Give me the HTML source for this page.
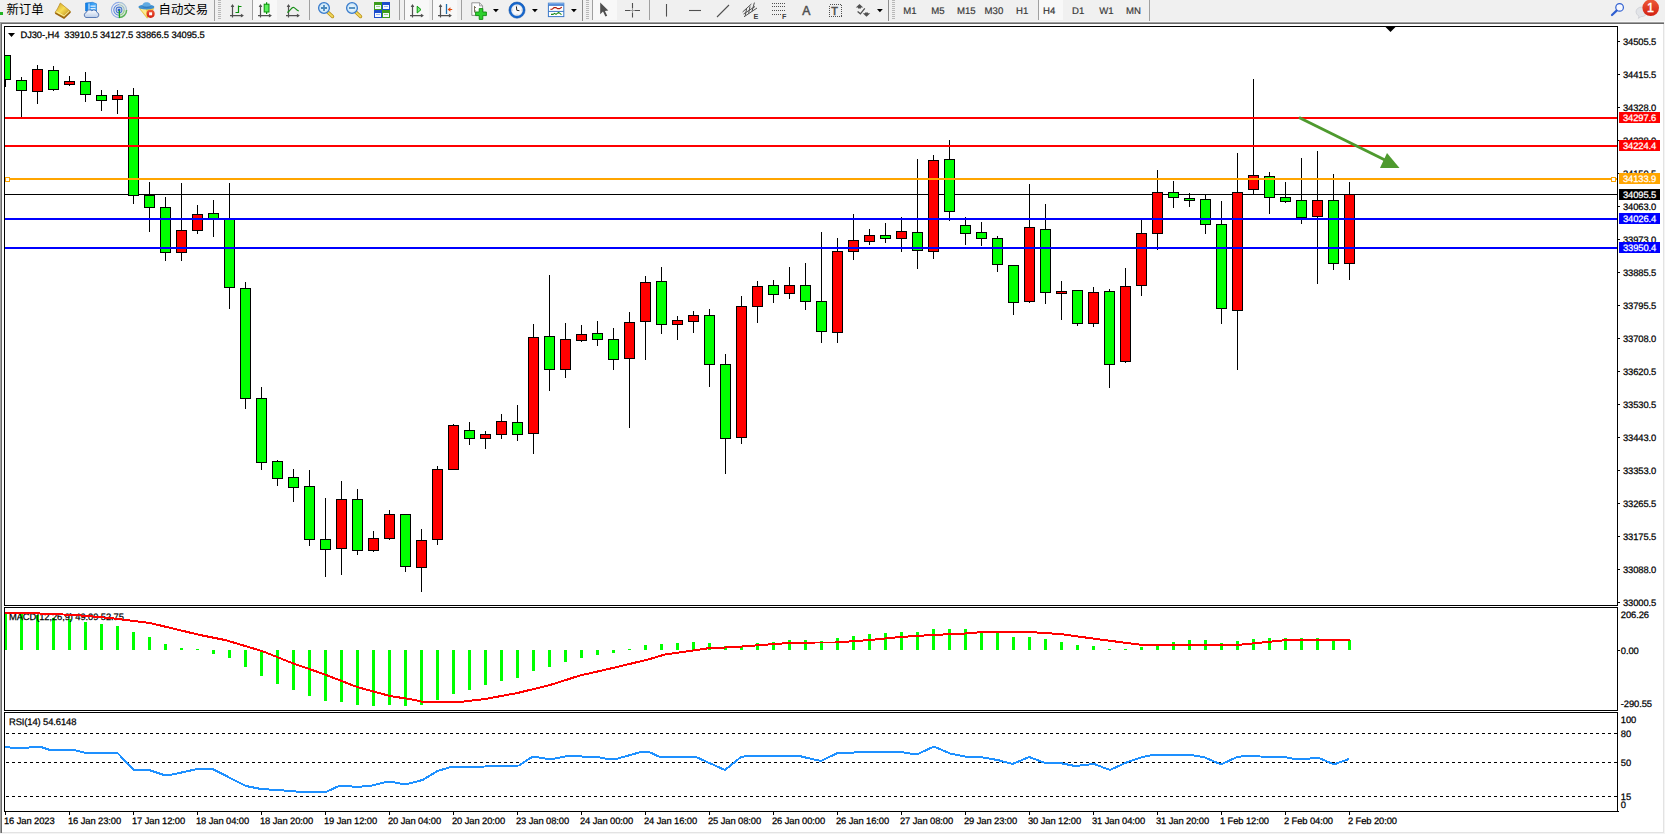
<!DOCTYPE html>
<html lang="zh"><head><meta charset="utf-8"><title>DJ30-,H4</title>
<style>
html,body{margin:0;padding:0;}
body{width:1665px;height:834px;position:relative;overflow:hidden;background:#fff;font-family:"Liberation Sans","Noto Sans CJK SC",sans-serif;}
.chart{position:absolute;left:0;top:0;}
.t{font-family:"Liberation Sans",sans-serif;font-size:9.4px;letter-spacing:-0.1px;stroke-width:.25px;stroke:#000;text-rendering:geometricPrecision;}
.w{fill:#fff;stroke:#fff;}
#tb{position:absolute;left:0;top:0;width:1665px;height:22px;background:#F0F0F0;}
.edge{position:absolute;}
.cj{position:absolute;top:2px;font-size:12.4px;line-height:16px;color:#000;font-family:"Liberation Sans","Noto Sans CJK SC",sans-serif;white-space:nowrap;}
.tf{position:absolute;top:5px;font-size:9.5px;line-height:12px;color:#3c3c3c;white-space:nowrap;font-family:"Liberation Sans",sans-serif;}
.tfs{font-family:"Liberation Sans",sans-serif;font-size:9.6px;fill:#3a3a3a;stroke:#3a3a3a;stroke-width:.2px;text-rendering:geometricPrecision;}
.sep{position:absolute;top:0;width:1px;height:20px;background:#A0A0A0;}
.grip{position:absolute;top:0;width:3px;height:19px;background:repeating-linear-gradient(to bottom,#B8B8B8 0,#B8B8B8 1px,transparent 1px,transparent 2px);}
.sel{position:absolute;top:0;height:20px;background:#F8F8F8;}
.ic{position:absolute;}
</style></head><body>
<div class="edge" style="left:0;top:22px;width:1px;height:812px;background:#A0A0A0"></div>
<div class="edge" style="left:1px;top:23px;width:1px;height:811px;background:#696969"></div>
<div class="edge" style="left:1663px;top:24px;width:1px;height:809px;background:#E3E3E3"></div>
<div class="edge" style="left:1664px;top:22px;width:1px;height:812px;background:#F4F4F4"></div>
<div class="edge" style="left:2px;top:832px;width:1662px;height:1px;background:#E3E3E3"></div>
<div class="edge" style="left:0;top:833px;width:1665px;height:1px;background:#F4F4F4"></div>
<div class="edge" style="left:0;top:22px;width:1664px;height:1px;background:#A0A0A0"></div>
<div class="edge" style="left:0;top:21px;width:1665px;height:1px;background:#F7F7F7;z-index:3"></div>
<div class="edge" style="left:1px;top:23px;width:1663px;height:1px;background:#696969"></div>
<svg class="chart" width="1665" height="834" viewBox="0 0 1665 834">
<g shape-rendering="crispEdges">
<rect x="4" y="26" width="1614" height="1" fill="#000"/>
<rect x="4" y="605" width="1614" height="1" fill="#000"/>
<rect x="4" y="26" width="1" height="580" fill="#000"/>
<rect x="1617" y="26" width="1" height="580" fill="#000"/>
<rect x="4" y="607" width="1614" height="1" fill="#000"/>
<rect x="4" y="710" width="1614" height="1" fill="#000"/>
<rect x="4" y="607" width="1" height="104" fill="#000"/>
<rect x="1617" y="607" width="1" height="104" fill="#000"/>
<rect x="4" y="712" width="1614" height="1" fill="#000"/>
<rect x="4" y="811" width="1614" height="1" fill="#000"/>
<rect x="4" y="712" width="1" height="100" fill="#000"/>
<rect x="1617" y="712" width="1" height="100" fill="#000"/>
<rect x="1617" y="811" width="2" height="1" fill="#000"/>
<rect x="5" y="194" width="1612" height="1" fill="#000"/>
<rect x="5" y="55" width="1" height="32" fill="#000"/>
<rect x="5" y="55" width="6" height="25" fill="#000"/>
<rect x="5" y="56" width="5" height="23" fill="#00FF00"/>
<rect x="21" y="77" width="1" height="40" fill="#000"/>
<rect x="16" y="80" width="11" height="11" fill="#000"/>
<rect x="17" y="81" width="9" height="9" fill="#00FF00"/>
<rect x="37" y="65" width="1" height="39" fill="#000"/>
<rect x="32" y="69" width="11" height="23" fill="#000"/>
<rect x="33" y="70" width="9" height="21" fill="#FF0000"/>
<rect x="53" y="66" width="1" height="25" fill="#000"/>
<rect x="48" y="70" width="11" height="20" fill="#000"/>
<rect x="49" y="71" width="9" height="18" fill="#00FF00"/>
<rect x="69" y="76" width="1" height="10" fill="#000"/>
<rect x="64" y="81" width="11" height="4" fill="#000"/>
<rect x="65" y="82" width="9" height="2" fill="#FF0000"/>
<rect x="85" y="72" width="1" height="30" fill="#000"/>
<rect x="80" y="81" width="11" height="14" fill="#000"/>
<rect x="81" y="82" width="9" height="12" fill="#00FF00"/>
<rect x="101" y="90" width="1" height="21" fill="#000"/>
<rect x="96" y="95" width="11" height="6" fill="#000"/>
<rect x="97" y="96" width="9" height="4" fill="#00FF00"/>
<rect x="117" y="90" width="1" height="24" fill="#000"/>
<rect x="112" y="95" width="11" height="5" fill="#000"/>
<rect x="113" y="96" width="9" height="3" fill="#FF0000"/>
<rect x="133" y="88" width="1" height="116" fill="#000"/>
<rect x="128" y="95" width="11" height="101" fill="#000"/>
<rect x="129" y="96" width="9" height="99" fill="#00FF00"/>
<rect x="149" y="182" width="1" height="50" fill="#000"/>
<rect x="144" y="195" width="11" height="13" fill="#000"/>
<rect x="145" y="196" width="9" height="11" fill="#00FF00"/>
<rect x="165" y="197" width="1" height="64" fill="#000"/>
<rect x="160" y="207" width="11" height="46" fill="#000"/>
<rect x="161" y="208" width="9" height="44" fill="#00FF00"/>
<rect x="181" y="183" width="1" height="78" fill="#000"/>
<rect x="176" y="230" width="11" height="23" fill="#000"/>
<rect x="177" y="231" width="9" height="21" fill="#FF0000"/>
<rect x="197" y="205" width="1" height="29" fill="#000"/>
<rect x="192" y="214" width="11" height="17" fill="#000"/>
<rect x="193" y="215" width="9" height="15" fill="#FF0000"/>
<rect x="213" y="200" width="1" height="37" fill="#000"/>
<rect x="208" y="213" width="11" height="6" fill="#000"/>
<rect x="209" y="214" width="9" height="4" fill="#00FF00"/>
<rect x="229" y="183" width="1" height="126" fill="#000"/>
<rect x="224" y="219" width="11" height="69" fill="#000"/>
<rect x="225" y="220" width="9" height="67" fill="#00FF00"/>
<rect x="245" y="282" width="1" height="127" fill="#000"/>
<rect x="240" y="288" width="11" height="111" fill="#000"/>
<rect x="241" y="289" width="9" height="109" fill="#00FF00"/>
<rect x="261" y="387" width="1" height="83" fill="#000"/>
<rect x="256" y="398" width="11" height="65" fill="#000"/>
<rect x="257" y="399" width="9" height="63" fill="#00FF00"/>
<rect x="277" y="460" width="1" height="26" fill="#000"/>
<rect x="272" y="461" width="11" height="18" fill="#000"/>
<rect x="273" y="462" width="9" height="16" fill="#00FF00"/>
<rect x="293" y="469" width="1" height="33" fill="#000"/>
<rect x="288" y="477" width="11" height="11" fill="#000"/>
<rect x="289" y="478" width="9" height="9" fill="#00FF00"/>
<rect x="309" y="470" width="1" height="76" fill="#000"/>
<rect x="304" y="486" width="11" height="54" fill="#000"/>
<rect x="305" y="487" width="9" height="52" fill="#00FF00"/>
<rect x="325" y="498" width="1" height="79" fill="#000"/>
<rect x="320" y="539" width="11" height="11" fill="#000"/>
<rect x="321" y="540" width="9" height="9" fill="#00FF00"/>
<rect x="341" y="481" width="1" height="94" fill="#000"/>
<rect x="336" y="499" width="11" height="50" fill="#000"/>
<rect x="337" y="500" width="9" height="48" fill="#FF0000"/>
<rect x="357" y="489" width="1" height="66" fill="#000"/>
<rect x="352" y="499" width="11" height="52" fill="#000"/>
<rect x="353" y="500" width="9" height="50" fill="#00FF00"/>
<rect x="373" y="531" width="1" height="21" fill="#000"/>
<rect x="368" y="538" width="11" height="13" fill="#000"/>
<rect x="369" y="539" width="9" height="11" fill="#FF0000"/>
<rect x="389" y="510" width="1" height="30" fill="#000"/>
<rect x="384" y="514" width="11" height="25" fill="#000"/>
<rect x="385" y="515" width="9" height="23" fill="#FF0000"/>
<rect x="405" y="514" width="1" height="58" fill="#000"/>
<rect x="400" y="514" width="11" height="53" fill="#000"/>
<rect x="401" y="515" width="9" height="51" fill="#00FF00"/>
<rect x="421" y="529" width="1" height="63" fill="#000"/>
<rect x="416" y="540" width="11" height="28" fill="#000"/>
<rect x="417" y="541" width="9" height="26" fill="#FF0000"/>
<rect x="437" y="466" width="1" height="79" fill="#000"/>
<rect x="432" y="469" width="11" height="71" fill="#000"/>
<rect x="433" y="470" width="9" height="69" fill="#FF0000"/>
<rect x="453" y="424" width="1" height="45" fill="#000"/>
<rect x="448" y="425" width="11" height="45" fill="#000"/>
<rect x="449" y="426" width="9" height="43" fill="#FF0000"/>
<rect x="469" y="422" width="1" height="23" fill="#000"/>
<rect x="464" y="430" width="11" height="9" fill="#000"/>
<rect x="465" y="431" width="9" height="7" fill="#00FF00"/>
<rect x="485" y="431" width="1" height="18" fill="#000"/>
<rect x="480" y="434" width="11" height="5" fill="#000"/>
<rect x="481" y="435" width="9" height="3" fill="#FF0000"/>
<rect x="501" y="414" width="1" height="25" fill="#000"/>
<rect x="496" y="421" width="11" height="14" fill="#000"/>
<rect x="497" y="422" width="9" height="12" fill="#FF0000"/>
<rect x="517" y="405" width="1" height="36" fill="#000"/>
<rect x="512" y="422" width="11" height="13" fill="#000"/>
<rect x="513" y="423" width="9" height="11" fill="#00FF00"/>
<rect x="533" y="324" width="1" height="130" fill="#000"/>
<rect x="528" y="337" width="11" height="97" fill="#000"/>
<rect x="529" y="338" width="9" height="95" fill="#FF0000"/>
<rect x="549" y="275" width="1" height="116" fill="#000"/>
<rect x="544" y="336" width="11" height="34" fill="#000"/>
<rect x="545" y="337" width="9" height="32" fill="#00FF00"/>
<rect x="565" y="323" width="1" height="55" fill="#000"/>
<rect x="560" y="339" width="11" height="31" fill="#000"/>
<rect x="561" y="340" width="9" height="29" fill="#FF0000"/>
<rect x="581" y="325" width="1" height="17" fill="#000"/>
<rect x="576" y="334" width="11" height="7" fill="#000"/>
<rect x="577" y="335" width="9" height="5" fill="#FF0000"/>
<rect x="597" y="321" width="1" height="25" fill="#000"/>
<rect x="592" y="333" width="11" height="7" fill="#000"/>
<rect x="593" y="334" width="9" height="5" fill="#00FF00"/>
<rect x="613" y="328" width="1" height="42" fill="#000"/>
<rect x="608" y="339" width="11" height="21" fill="#000"/>
<rect x="609" y="340" width="9" height="19" fill="#00FF00"/>
<rect x="629" y="312" width="1" height="116" fill="#000"/>
<rect x="624" y="322" width="11" height="37" fill="#000"/>
<rect x="625" y="323" width="9" height="35" fill="#FF0000"/>
<rect x="645" y="276" width="1" height="84" fill="#000"/>
<rect x="640" y="282" width="11" height="40" fill="#000"/>
<rect x="641" y="283" width="9" height="38" fill="#FF0000"/>
<rect x="661" y="267" width="1" height="67" fill="#000"/>
<rect x="656" y="281" width="11" height="44" fill="#000"/>
<rect x="657" y="282" width="9" height="42" fill="#00FF00"/>
<rect x="677" y="316" width="1" height="24" fill="#000"/>
<rect x="672" y="320" width="11" height="5" fill="#000"/>
<rect x="673" y="321" width="9" height="3" fill="#FF0000"/>
<rect x="693" y="311" width="1" height="22" fill="#000"/>
<rect x="688" y="315" width="11" height="7" fill="#000"/>
<rect x="689" y="316" width="9" height="5" fill="#FF0000"/>
<rect x="709" y="309" width="1" height="78" fill="#000"/>
<rect x="704" y="315" width="11" height="50" fill="#000"/>
<rect x="705" y="316" width="9" height="48" fill="#00FF00"/>
<rect x="725" y="354" width="1" height="120" fill="#000"/>
<rect x="720" y="364" width="11" height="75" fill="#000"/>
<rect x="721" y="365" width="9" height="73" fill="#00FF00"/>
<rect x="741" y="296" width="1" height="148" fill="#000"/>
<rect x="736" y="306" width="11" height="132" fill="#000"/>
<rect x="737" y="307" width="9" height="130" fill="#FF0000"/>
<rect x="757" y="281" width="1" height="42" fill="#000"/>
<rect x="752" y="286" width="11" height="21" fill="#000"/>
<rect x="753" y="287" width="9" height="19" fill="#FF0000"/>
<rect x="773" y="280" width="1" height="23" fill="#000"/>
<rect x="768" y="285" width="11" height="10" fill="#000"/>
<rect x="769" y="286" width="9" height="8" fill="#00FF00"/>
<rect x="789" y="267" width="1" height="32" fill="#000"/>
<rect x="784" y="285" width="11" height="9" fill="#000"/>
<rect x="785" y="286" width="9" height="7" fill="#FF0000"/>
<rect x="805" y="263" width="1" height="47" fill="#000"/>
<rect x="800" y="285" width="11" height="17" fill="#000"/>
<rect x="801" y="286" width="9" height="15" fill="#00FF00"/>
<rect x="821" y="232" width="1" height="111" fill="#000"/>
<rect x="816" y="301" width="11" height="31" fill="#000"/>
<rect x="817" y="302" width="9" height="29" fill="#00FF00"/>
<rect x="837" y="238" width="1" height="105" fill="#000"/>
<rect x="832" y="251" width="11" height="82" fill="#000"/>
<rect x="833" y="252" width="9" height="80" fill="#FF0000"/>
<rect x="853" y="214" width="1" height="46" fill="#000"/>
<rect x="848" y="240" width="11" height="12" fill="#000"/>
<rect x="849" y="241" width="9" height="10" fill="#FF0000"/>
<rect x="869" y="229" width="1" height="16" fill="#000"/>
<rect x="864" y="235" width="11" height="7" fill="#000"/>
<rect x="865" y="236" width="9" height="5" fill="#FF0000"/>
<rect x="885" y="223" width="1" height="20" fill="#000"/>
<rect x="880" y="235" width="11" height="4" fill="#000"/>
<rect x="881" y="236" width="9" height="2" fill="#00FF00"/>
<rect x="901" y="217" width="1" height="35" fill="#000"/>
<rect x="896" y="231" width="11" height="8" fill="#000"/>
<rect x="897" y="232" width="9" height="6" fill="#FF0000"/>
<rect x="917" y="159" width="1" height="110" fill="#000"/>
<rect x="912" y="232" width="11" height="19" fill="#000"/>
<rect x="913" y="233" width="9" height="17" fill="#00FF00"/>
<rect x="933" y="155" width="1" height="104" fill="#000"/>
<rect x="928" y="160" width="11" height="92" fill="#000"/>
<rect x="929" y="161" width="9" height="90" fill="#FF0000"/>
<rect x="949" y="140" width="1" height="81" fill="#000"/>
<rect x="944" y="159" width="11" height="53" fill="#000"/>
<rect x="945" y="160" width="9" height="51" fill="#00FF00"/>
<rect x="965" y="217" width="1" height="28" fill="#000"/>
<rect x="960" y="225" width="11" height="9" fill="#000"/>
<rect x="961" y="226" width="9" height="7" fill="#00FF00"/>
<rect x="981" y="222" width="1" height="24" fill="#000"/>
<rect x="976" y="232" width="11" height="7" fill="#000"/>
<rect x="977" y="233" width="9" height="5" fill="#00FF00"/>
<rect x="997" y="236" width="1" height="36" fill="#000"/>
<rect x="992" y="238" width="11" height="27" fill="#000"/>
<rect x="993" y="239" width="9" height="25" fill="#00FF00"/>
<rect x="1013" y="265" width="1" height="50" fill="#000"/>
<rect x="1008" y="265" width="11" height="38" fill="#000"/>
<rect x="1009" y="266" width="9" height="36" fill="#00FF00"/>
<rect x="1029" y="184" width="1" height="119" fill="#000"/>
<rect x="1024" y="227" width="11" height="75" fill="#000"/>
<rect x="1025" y="228" width="9" height="73" fill="#FF0000"/>
<rect x="1045" y="204" width="1" height="100" fill="#000"/>
<rect x="1040" y="229" width="11" height="64" fill="#000"/>
<rect x="1041" y="230" width="9" height="62" fill="#00FF00"/>
<rect x="1061" y="281" width="1" height="39" fill="#000"/>
<rect x="1056" y="291" width="11" height="3" fill="#000"/>
<rect x="1057" y="292" width="9" height="1" fill="#FF0000"/>
<rect x="1077" y="290" width="1" height="36" fill="#000"/>
<rect x="1072" y="290" width="11" height="34" fill="#000"/>
<rect x="1073" y="291" width="9" height="32" fill="#00FF00"/>
<rect x="1093" y="287" width="1" height="40" fill="#000"/>
<rect x="1088" y="292" width="11" height="32" fill="#000"/>
<rect x="1089" y="293" width="9" height="30" fill="#FF0000"/>
<rect x="1109" y="289" width="1" height="99" fill="#000"/>
<rect x="1104" y="291" width="11" height="74" fill="#000"/>
<rect x="1105" y="292" width="9" height="72" fill="#00FF00"/>
<rect x="1125" y="268" width="1" height="95" fill="#000"/>
<rect x="1120" y="286" width="11" height="76" fill="#000"/>
<rect x="1121" y="287" width="9" height="74" fill="#FF0000"/>
<rect x="1141" y="220" width="1" height="76" fill="#000"/>
<rect x="1136" y="233" width="11" height="53" fill="#000"/>
<rect x="1137" y="234" width="9" height="51" fill="#FF0000"/>
<rect x="1157" y="170" width="1" height="80" fill="#000"/>
<rect x="1152" y="192" width="11" height="42" fill="#000"/>
<rect x="1153" y="193" width="9" height="40" fill="#FF0000"/>
<rect x="1173" y="181" width="1" height="27" fill="#000"/>
<rect x="1168" y="192" width="11" height="6" fill="#000"/>
<rect x="1169" y="193" width="9" height="4" fill="#00FF00"/>
<rect x="1189" y="193" width="1" height="14" fill="#000"/>
<rect x="1184" y="198" width="11" height="3" fill="#000"/>
<rect x="1185" y="199" width="9" height="1" fill="#00FF00"/>
<rect x="1205" y="195" width="1" height="39" fill="#000"/>
<rect x="1200" y="199" width="11" height="26" fill="#000"/>
<rect x="1201" y="200" width="9" height="24" fill="#00FF00"/>
<rect x="1221" y="201" width="1" height="123" fill="#000"/>
<rect x="1216" y="224" width="11" height="85" fill="#000"/>
<rect x="1217" y="225" width="9" height="83" fill="#00FF00"/>
<rect x="1237" y="153" width="1" height="217" fill="#000"/>
<rect x="1232" y="192" width="11" height="119" fill="#000"/>
<rect x="1233" y="193" width="9" height="117" fill="#FF0000"/>
<rect x="1253" y="79" width="1" height="115" fill="#000"/>
<rect x="1248" y="175" width="11" height="15" fill="#000"/>
<rect x="1249" y="176" width="9" height="13" fill="#FF0000"/>
<rect x="1269" y="172" width="1" height="42" fill="#000"/>
<rect x="1264" y="176" width="11" height="22" fill="#000"/>
<rect x="1265" y="177" width="9" height="20" fill="#00FF00"/>
<rect x="1285" y="182" width="1" height="21" fill="#000"/>
<rect x="1280" y="197" width="11" height="5" fill="#000"/>
<rect x="1281" y="198" width="9" height="3" fill="#00FF00"/>
<rect x="1301" y="158" width="1" height="66" fill="#000"/>
<rect x="1296" y="200" width="11" height="18" fill="#000"/>
<rect x="1297" y="201" width="9" height="16" fill="#00FF00"/>
<rect x="1317" y="151" width="1" height="133" fill="#000"/>
<rect x="1312" y="200" width="11" height="17" fill="#000"/>
<rect x="1313" y="201" width="9" height="15" fill="#FF0000"/>
<rect x="1333" y="174" width="1" height="96" fill="#000"/>
<rect x="1328" y="200" width="11" height="64" fill="#000"/>
<rect x="1329" y="201" width="9" height="62" fill="#00FF00"/>
<rect x="1349" y="182" width="1" height="98" fill="#000"/>
<rect x="1344" y="194" width="11" height="70" fill="#000"/>
<rect x="1345" y="195" width="9" height="68" fill="#FF0000"/>
<rect x="5" y="117" width="1612" height="2" fill="#FF0000"/>
<rect x="5" y="145" width="1612" height="2" fill="#FF0000"/>
<rect x="5" y="178" width="1612" height="2" fill="#FFA500"/>
<rect x="5" y="218" width="1612" height="2" fill="#0000FF"/>
<rect x="5" y="247" width="1612" height="2" fill="#0000FF"/>
<rect x="5" y="177" width="5" height="5" fill="#FFA500"/><rect x="6" y="178" width="3" height="3" fill="#fff"/>
<rect x="1611" y="177" width="5" height="5" fill="#FFA500"/><rect x="1612" y="178" width="3" height="3" fill="#fff"/>
<rect x="5" y="613" width="2" height="37" fill="#00FF00"/>
<rect x="20" y="613" width="3" height="37" fill="#00FF00"/>
<rect x="36" y="615" width="3" height="35" fill="#00FF00"/>
<rect x="52" y="618" width="3" height="32" fill="#00FF00"/>
<rect x="68" y="619" width="3" height="31" fill="#00FF00"/>
<rect x="84" y="622" width="3" height="28" fill="#00FF00"/>
<rect x="100" y="624" width="3" height="26" fill="#00FF00"/>
<rect x="116" y="626" width="3" height="24" fill="#00FF00"/>
<rect x="132" y="632" width="3" height="18" fill="#00FF00"/>
<rect x="148" y="637" width="3" height="13" fill="#00FF00"/>
<rect x="164" y="644" width="3" height="6" fill="#00FF00"/>
<rect x="180" y="648" width="3" height="2" fill="#00FF00"/>
<rect x="196" y="649" width="3" height="1" fill="#00FF00"/>
<rect x="212" y="650" width="3" height="4" fill="#00FF00"/>
<rect x="228" y="650" width="3" height="8" fill="#00FF00"/>
<rect x="244" y="650" width="3" height="17" fill="#00FF00"/>
<rect x="260" y="650" width="3" height="26" fill="#00FF00"/>
<rect x="276" y="650" width="3" height="34" fill="#00FF00"/>
<rect x="292" y="650" width="3" height="40" fill="#00FF00"/>
<rect x="308" y="650" width="3" height="46" fill="#00FF00"/>
<rect x="324" y="650" width="3" height="51" fill="#00FF00"/>
<rect x="340" y="650" width="3" height="52" fill="#00FF00"/>
<rect x="356" y="650" width="3" height="55" fill="#00FF00"/>
<rect x="372" y="650" width="3" height="56" fill="#00FF00"/>
<rect x="388" y="650" width="3" height="55" fill="#00FF00"/>
<rect x="404" y="650" width="3" height="56" fill="#00FF00"/>
<rect x="420" y="650" width="3" height="55" fill="#00FF00"/>
<rect x="436" y="650" width="3" height="50" fill="#00FF00"/>
<rect x="452" y="650" width="3" height="44" fill="#00FF00"/>
<rect x="468" y="650" width="3" height="40" fill="#00FF00"/>
<rect x="484" y="650" width="3" height="35" fill="#00FF00"/>
<rect x="500" y="650" width="3" height="31" fill="#00FF00"/>
<rect x="516" y="650" width="3" height="28" fill="#00FF00"/>
<rect x="532" y="650" width="3" height="21" fill="#00FF00"/>
<rect x="548" y="650" width="3" height="17" fill="#00FF00"/>
<rect x="564" y="650" width="3" height="12" fill="#00FF00"/>
<rect x="580" y="650" width="3" height="8" fill="#00FF00"/>
<rect x="596" y="650" width="3" height="5" fill="#00FF00"/>
<rect x="612" y="650" width="3" height="3" fill="#00FF00"/>
<rect x="628" y="649" width="3" height="1" fill="#00FF00"/>
<rect x="644" y="645" width="3" height="5" fill="#00FF00"/>
<rect x="660" y="644" width="3" height="6" fill="#00FF00"/>
<rect x="676" y="643" width="3" height="7" fill="#00FF00"/>
<rect x="692" y="642" width="3" height="8" fill="#00FF00"/>
<rect x="708" y="643" width="3" height="7" fill="#00FF00"/>
<rect x="724" y="646" width="3" height="4" fill="#00FF00"/>
<rect x="740" y="646" width="3" height="4" fill="#00FF00"/>
<rect x="756" y="643" width="3" height="7" fill="#00FF00"/>
<rect x="772" y="642" width="3" height="8" fill="#00FF00"/>
<rect x="788" y="640" width="3" height="10" fill="#00FF00"/>
<rect x="804" y="640" width="3" height="10" fill="#00FF00"/>
<rect x="820" y="641" width="3" height="9" fill="#00FF00"/>
<rect x="836" y="638" width="3" height="12" fill="#00FF00"/>
<rect x="852" y="636" width="3" height="14" fill="#00FF00"/>
<rect x="868" y="634" width="3" height="16" fill="#00FF00"/>
<rect x="884" y="633" width="3" height="17" fill="#00FF00"/>
<rect x="900" y="632" width="3" height="18" fill="#00FF00"/>
<rect x="916" y="632" width="3" height="18" fill="#00FF00"/>
<rect x="932" y="629" width="3" height="21" fill="#00FF00"/>
<rect x="948" y="629" width="3" height="21" fill="#00FF00"/>
<rect x="964" y="629" width="3" height="21" fill="#00FF00"/>
<rect x="980" y="631" width="3" height="19" fill="#00FF00"/>
<rect x="996" y="632" width="3" height="18" fill="#00FF00"/>
<rect x="1012" y="637" width="3" height="13" fill="#00FF00"/>
<rect x="1028" y="637" width="3" height="13" fill="#00FF00"/>
<rect x="1044" y="639" width="3" height="11" fill="#00FF00"/>
<rect x="1060" y="642" width="3" height="8" fill="#00FF00"/>
<rect x="1076" y="645" width="3" height="5" fill="#00FF00"/>
<rect x="1092" y="646" width="3" height="4" fill="#00FF00"/>
<rect x="1108" y="649" width="3" height="1" fill="#00FF00"/>
<rect x="1124" y="649" width="3" height="1" fill="#00FF00"/>
<rect x="1140" y="647" width="3" height="3" fill="#00FF00"/>
<rect x="1156" y="645" width="3" height="5" fill="#00FF00"/>
<rect x="1172" y="642" width="3" height="8" fill="#00FF00"/>
<rect x="1188" y="640" width="3" height="10" fill="#00FF00"/>
<rect x="1204" y="640" width="3" height="10" fill="#00FF00"/>
<rect x="1220" y="643" width="3" height="7" fill="#00FF00"/>
<rect x="1236" y="641" width="3" height="9" fill="#00FF00"/>
<rect x="1252" y="639" width="3" height="11" fill="#00FF00"/>
<rect x="1268" y="638" width="3" height="12" fill="#00FF00"/>
<rect x="1284" y="638" width="3" height="12" fill="#00FF00"/>
<rect x="1300" y="638" width="3" height="12" fill="#00FF00"/>
<rect x="1316" y="638" width="3" height="12" fill="#00FF00"/>
<rect x="1332" y="639" width="3" height="11" fill="#00FF00"/>
<rect x="1348" y="640" width="3" height="10" fill="#00FF00"/>
<rect x="1618" y="41" width="2" height="1" fill="#000"/>
<rect x="1618" y="74" width="2" height="1" fill="#000"/>
<rect x="1618" y="107" width="2" height="1" fill="#000"/>
<rect x="1618" y="140" width="2" height="1" fill="#000"/>
<rect x="1618" y="173" width="2" height="1" fill="#000"/>
<rect x="1618" y="206" width="2" height="1" fill="#000"/>
<rect x="1618" y="239" width="2" height="1" fill="#000"/>
<rect x="1618" y="272" width="2" height="1" fill="#000"/>
<rect x="1618" y="305" width="2" height="1" fill="#000"/>
<rect x="1618" y="338" width="2" height="1" fill="#000"/>
<rect x="1618" y="371" width="2" height="1" fill="#000"/>
<rect x="1618" y="404" width="2" height="1" fill="#000"/>
<rect x="1618" y="437" width="2" height="1" fill="#000"/>
<rect x="1618" y="470" width="2" height="1" fill="#000"/>
<rect x="1618" y="503" width="2" height="1" fill="#000"/>
<rect x="1618" y="536" width="2" height="1" fill="#000"/>
<rect x="1618" y="569" width="2" height="1" fill="#000"/>
<rect x="1618" y="602" width="2" height="1" fill="#000"/>
<rect x="1618" y="650" width="2" height="1" fill="#000"/>
<rect x="5" y="812" width="1" height="3" fill="#000"/>
<rect x="69" y="812" width="1" height="3" fill="#000"/>
<rect x="133" y="812" width="1" height="3" fill="#000"/>
<rect x="197" y="812" width="1" height="3" fill="#000"/>
<rect x="261" y="812" width="1" height="3" fill="#000"/>
<rect x="325" y="812" width="1" height="3" fill="#000"/>
<rect x="389" y="812" width="1" height="3" fill="#000"/>
<rect x="453" y="812" width="1" height="3" fill="#000"/>
<rect x="517" y="812" width="1" height="3" fill="#000"/>
<rect x="581" y="812" width="1" height="3" fill="#000"/>
<rect x="645" y="812" width="1" height="3" fill="#000"/>
<rect x="709" y="812" width="1" height="3" fill="#000"/>
<rect x="773" y="812" width="1" height="3" fill="#000"/>
<rect x="837" y="812" width="1" height="3" fill="#000"/>
<rect x="901" y="812" width="1" height="3" fill="#000"/>
<rect x="965" y="812" width="1" height="3" fill="#000"/>
<rect x="1029" y="812" width="1" height="3" fill="#000"/>
<rect x="1093" y="812" width="1" height="3" fill="#000"/>
<rect x="1157" y="812" width="1" height="3" fill="#000"/>
<rect x="1221" y="812" width="1" height="3" fill="#000"/>
<rect x="1285" y="812" width="1" height="3" fill="#000"/>
<rect x="1349" y="812" width="1" height="3" fill="#000"/>
</g>
<text x="9" y="620" class="t">MACD(12,26,9) 49.09 52.75</text>
<line x1="6" x2="1617" y1="733.5" y2="733.5" stroke="#000" stroke-width="1" stroke-dasharray="3 3" shape-rendering="crispEdges"/>
<line x1="6" x2="1617" y1="762.5" y2="762.5" stroke="#000" stroke-width="1" stroke-dasharray="3 3" shape-rendering="crispEdges"/>
<line x1="6" x2="1617" y1="796.5" y2="796.5" stroke="#000" stroke-width="1" stroke-dasharray="3 3" shape-rendering="crispEdges"/>
<polyline points="5,613 40,613.5 75,615 110,618 150,623 175,629 200,635 225,640 262,651 292,663 325,674.5 357,687 390,696 415,700 422.5,702 440,702.5 460,702 485,699 517.5,693 550,685 580,675.5 615,667.5 650,659 665,654.5 682.5,652 710,648 725,647.5 742.5,646.5 775,644 790,643 816,642.5 835,642.5 870,640 900,637 932.5,635 965,633.5 982.5,632 1029,632 1060,634 1100,639.5 1142.5,645 1237,645 1287,640 1350,640" fill="none" stroke="#FF0000" stroke-width="2" stroke-linejoin="round" shape-rendering="crispEdges"/>
<polyline points="5,747 15,748 27.5,748 30,747 41,747 50,750 74,750 86,753 117.5,753 134,770 149,770 164,775 170,775 197.5,769 212.5,769 246,786 261,789 277.5,790 302.5,792 326,792 340,785.5 346,785.5 355,787 370,786 386,782 392.5,782 402.5,784 407.5,784 422.5,780 437.5,771 451,767 485,766.5 519,765.5 532,757 536,757 547.5,759 555,758.5 567.5,756 580,756 584,757 597.5,757 607.5,759 616,759 641,752 649,752 660,757 696,757 725,770 741,757 750,755.5 797.5,755.5 807.5,758 821,761 837.5,753 852.5,753 856,752 901,752 910,753.5 919,753.5 934,746.5 950,753.5 965,756.5 980,757 997.5,760 1012.5,764 1029,757 1044,762.5 1060,763 1075,766 1094,764 1110,770 1127.5,762 1142.5,757 1155,754.5 1189,754.5 1205,757.5 1221,764.5 1237,757 1249,755.5 1260,756.5 1284,757 1295,759 1309,759 1311.5,758 1319,758 1333,764 1335,764 1349,759" fill="none" stroke="#1E90FF" stroke-width="2" stroke-linejoin="round" shape-rendering="crispEdges"/>
<line x1="1299" y1="117.5" x2="1388" y2="161.5" stroke="#4E9A2E" stroke-width="3"/>
<polygon points="1387,153 1399.5,168 1380,168" fill="#4E9A2E"/>
<polygon points="1385.5,27 1395.5,27 1390.5,32" fill="#000"/>
<polygon points="8,33 15,33 11.5,37" fill="#000"/>
<text x="20.5" y="37.5" class="t">DJ30-,H4&#160;&#160;33910.5 34127.5 33866.5 34095.5</text>
<text x="9" y="725" class="t">RSI(14) 54.6148</text>
<text x="1623" y="44.5" class="t">34505.5</text>
<text x="1623" y="77.5" class="t">34415.5</text>
<text x="1623" y="110.5" class="t">34328.0</text>
<text x="1623" y="143.5" class="t">34238.0</text>
<text x="1623" y="176.5" class="t">34150.5</text>
<text x="1623" y="209.5" class="t">34063.0</text>
<text x="1623" y="242.5" class="t">33973.0</text>
<text x="1623" y="275.5" class="t">33885.5</text>
<text x="1623" y="308.5" class="t">33795.5</text>
<text x="1623" y="341.5" class="t">33708.0</text>
<text x="1623" y="374.5" class="t">33620.5</text>
<text x="1623" y="407.5" class="t">33530.5</text>
<text x="1623" y="440.5" class="t">33443.0</text>
<text x="1623" y="473.5" class="t">33353.0</text>
<text x="1623" y="506.5" class="t">33265.5</text>
<text x="1623" y="539.5" class="t">33175.5</text>
<text x="1623" y="572.5" class="t">33088.0</text>
<text x="1623" y="605.5" class="t">33000.5</text>
<rect x="1619" y="112" width="41" height="11" fill="#FF0000" shape-rendering="crispEdges"/>
<text x="1623" y="121.1" class="t w">34297.6</text>
<rect x="1619" y="140" width="41" height="11" fill="#FF0000" shape-rendering="crispEdges"/>
<text x="1623" y="149.1" class="t w">34224.4</text>
<rect x="1619" y="173" width="41" height="11" fill="#FFA500" shape-rendering="crispEdges"/>
<text x="1623" y="182.1" class="t w">34133.9</text>
<rect x="1619" y="189" width="41" height="11" fill="#000" shape-rendering="crispEdges"/>
<text x="1623" y="198.1" class="t w">34095.5</text>
<rect x="1619" y="213" width="41" height="11" fill="#0000FF" shape-rendering="crispEdges"/>
<text x="1623" y="222.1" class="t w">34026.4</text>
<rect x="1619" y="242" width="41" height="11" fill="#0000FF" shape-rendering="crispEdges"/>
<text x="1623" y="251.1" class="t w">33950.4</text>
<text x="1620.8" y="617.6" class="t">206.26</text>
<text x="1620.8" y="653.6" class="t">0.00</text>
<text x="1620.8" y="707.1" class="t">-290.55</text>
<text x="1620.8" y="722.6" class="t">100</text>
<text x="1620.8" y="736.6" class="t">80</text>
<text x="1620.8" y="765.6" class="t">50</text>
<text x="1620.8" y="799.6" class="t">15</text>
<text x="1620.8" y="807.6" class="t">0</text>
<text x="4" y="824" class="t">16 Jan 2023</text>
<text x="68" y="824" class="t">16 Jan 23:00</text>
<text x="132" y="824" class="t">17 Jan 12:00</text>
<text x="196" y="824" class="t">18 Jan 04:00</text>
<text x="260" y="824" class="t">18 Jan 20:00</text>
<text x="324" y="824" class="t">19 Jan 12:00</text>
<text x="388" y="824" class="t">20 Jan 04:00</text>
<text x="452" y="824" class="t">20 Jan 20:00</text>
<text x="516" y="824" class="t">23 Jan 08:00</text>
<text x="580" y="824" class="t">24 Jan 00:00</text>
<text x="644" y="824" class="t">24 Jan 16:00</text>
<text x="708" y="824" class="t">25 Jan 08:00</text>
<text x="772" y="824" class="t">26 Jan 00:00</text>
<text x="836" y="824" class="t">26 Jan 16:00</text>
<text x="900" y="824" class="t">27 Jan 08:00</text>
<text x="964" y="824" class="t">29 Jan 23:00</text>
<text x="1028" y="824" class="t">30 Jan 12:00</text>
<text x="1092" y="824" class="t">31 Jan 04:00</text>
<text x="1156" y="824" class="t">31 Jan 20:00</text>
<text x="1220" y="824" class="t">1 Feb 12:00</text>
<text x="1284" y="824" class="t">2 Feb 04:00</text>
<text x="1348" y="824" class="t">2 Feb 20:00</text>
</svg>
<div id="tb">
<div class="sel" style="left:253px;width:24px"></div>
<div class="sel" style="left:405px;width:24px"></div>
<div class="sel" style="left:433px;width:24px"></div>
<div class="sel" style="left:593px;width:24px"></div>
<div class="sel" style="left:1039px;width:24px"></div>
<div class="sep" style="left:214px;height:22px"></div>
<div class="sep" style="left:252px"></div>
<div class="sep" style="left:309px"></div>
<div class="sep" style="left:399px"></div>
<div class="sep" style="left:404px"></div>
<div class="sep" style="left:432px"></div>
<div class="sep" style="left:461px"></div>
<div class="sep" style="left:582px;height:22px;background:#8C8C8C"></div>
<div class="sep" style="left:592px"></div>
<div class="sep" style="left:649px"></div>
<div class="sep" style="left:888px;height:22px;background:#8C8C8C"></div>
<div class="sep" style="left:1038px"></div>
<div class="sep" style="left:1149px;height:22px"></div>
<div class="grip" style="left:218px"></div>
<div class="grip" style="left:586px"></div>
<div class="grip" style="left:892px"></div>
<span class="cj" style="left:6.4px">新订单</span>
<span class="cj" style="left:158.6px">自动交易</span>
<svg class="ic" style="left:0;top:0" width="1665" height="22" viewBox="0 0 1665 22">
<defs>
<linearGradient id="gold" x1="0" y1="0" x2="1" y2="1"><stop offset="0" stop-color="#C99A1E"/><stop offset=".45" stop-color="#F7DD55"/><stop offset="1" stop-color="#B07A10"/></linearGradient>
<linearGradient id="bluebox" x1="0" y1="0" x2="1" y2="0"><stop offset="0" stop-color="#0E7EE8"/><stop offset="1" stop-color="#58B4F8"/></linearGradient>
<linearGradient id="cloud" x1="0" y1="0" x2="0" y2="1"><stop offset="0" stop-color="#FFFFFF"/><stop offset="1" stop-color="#B9CCE8"/></linearGradient>
<linearGradient id="redc" x1="0" y1="0" x2="0" y2="1"><stop offset="0" stop-color="#EE5A38"/><stop offset="1" stop-color="#D21F10"/></linearGradient>
<linearGradient id="tbar" x1="0" y1="0" x2="0" y2="1"><stop offset="0" stop-color="#7FB2EE"/><stop offset="1" stop-color="#2F6CC4"/></linearGradient>
<radialGradient id="face"><stop offset="0" stop-color="#FFFFFF"/><stop offset=".6" stop-color="#F4F6FA"/><stop offset="1" stop-color="#C8D0DC"/></radialGradient>
<radialGradient id="lens"><stop offset="0" stop-color="#F4FBFF"/><stop offset="1" stop-color="#C4E2F6"/></radialGradient>
<g id="axes" fill="none" stroke="#505050" stroke-width="1.2"><path d="M2.5 17.5V5M0 15.6H13"/><path d="M2.5 3.9L4.3 6.9H.7Z M13.9 15.6L10.9 17.4V13.8Z" fill="#505050" stroke="none"/></g>
<path id="dd" d="M0 0H5.8L2.9 3.2Z" fill="#000"/>
</defs>
<!-- new order green bit -->
<rect x="0" y="12" width="3" height="3" fill="#22B422"/>
<!-- book -->
<path d="M60.3 3C58.6 6.6 57 10 55 12.5L64 17.9L70.6 11.4Z" fill="url(#gold)" stroke="#B4841A" stroke-width=".7"/>
<path d="M55.3 13.1L64 18L70.4 12" fill="none" stroke="#9A6410" stroke-width="1.5"/>
<path d="M56.4 11.6L64.1 16L69.2 11.2" fill="none" stroke="#FBEFA8" stroke-width=".9"/>
<!-- server + cloud -->
<path d="M85.5 3L92.5 2.3L96.5 3.8V11H85.5Z" fill="url(#bluebox)" stroke="#1070D0" stroke-width=".6"/>
<path d="M89 3.5V11" stroke="#E8F4FF" stroke-width="1"/>
<rect x="90.5" y="5.5" width="5" height="1.3" fill="#DDEEFF"/><rect x="90.5" y="8" width="5" height="1.3" fill="#DDEEFF"/>
<path d="M86 17.5h10.5a2.6 2.6 0 0 0 .4-5.1a3 3 0 0 0-5-1.6a3.4 3.4 0 0 0-5.6 1.7a2.6 2.6 0 0 0-.3 5z" fill="url(#cloud)" stroke="#4C6FAE" stroke-width=".9"/>
<!-- signal -->
<path d="M119 10L119 17.6A7.6 7.6 0 0 0 126.6 10A7.6 7.6 0 0 0 119 2.4Z" fill="#DCE8DC" opacity=".8"/>
<g fill="none" stroke-width="1.1">
<path d="M119 2.4A7.6 7.6 0 0 0 119 17.6" stroke="#8EAAE6"/>
<path d="M119 4.8A5.2 5.2 0 0 0 119 15.2" stroke="#5C88DC"/>
<path d="M119 2.4A7.6 7.6 0 0 1 126.6 10" stroke="#A8C0D8"/>
<path d="M119 4.8A5.2 5.2 0 0 1 124.2 10" stroke="#9CBCC8"/>
<path d="M119 17.6A7.6 7.6 0 0 0 126.6 10" stroke="#5AB25A" stroke-width="1.5"/>
<path d="M119 15.2A5.2 5.2 0 0 0 124.2 10" stroke="#8CC88C" stroke-width="1.2"/>
<circle cx="119" cy="10" r="2.9" stroke="#4A78D0"/>
</g>
<circle cx="119" cy="10" r="1.5" fill="#2A5AD0"/>
<path d="M119.4 10.5V17.8" stroke="#18A018" stroke-width="1.3"/>
<!-- expert hat -->
<path d="M139.5 8.5L153.8 8.5L147.2 18.2Z" fill="#F6D648" stroke="#D8B02A" stroke-width=".6"/>
<path d="M140.5 9L146 9L146.8 16.5Z" fill="#FBEA90"/>
<ellipse cx="146.4" cy="7" rx="8" ry="2.6" fill="#3F8FD0"/>
<path d="M142.2 6.8C142.2 3.4 144 2.2 146.6 2.2S151 3.4 151 6.8Z" fill="#5FAAE2"/>
<path d="M142.4 6.4C143.5 7.6 149.6 7.6 150.8 6.4" fill="none" stroke="#2C74B4" stroke-width=".9"/>
<circle cx="150.6" cy="13.8" r="4.1" fill="url(#redc)"/>
<rect x="149.1" y="12.3" width="3" height="3" fill="#fff"/>
<!-- chart type icons -->
<use href="#axes" x="230" y="0"/>
<path d="M238.5 5.5V13M238.5 6.5H241.5M235.5 12.5H238.5" stroke="#0A900A" stroke-width="1.2" fill="none"/>
<use href="#axes" x="258" y="0"/>
<path d="M266.6 2.2V14" stroke="#0A900A" stroke-width="1.2"/>
<rect x="264.2" y="4.2" width="4.8" height="7.8" fill="#5CF05C" stroke="#0A900A" stroke-width="1"/>
<use href="#axes" x="286" y="0"/>
<path d="M287.3 12.6C290 11 291.5 7.4 293.3 7.4S296 10 298.8 11" stroke="#1A901A" stroke-width="1.2" fill="none"/>
<!-- zoom in/out -->
<g>
<path d="M328 12.3L332.5 16.5" stroke="#B8901A" stroke-width="3.4" stroke-linecap="round"/><path d="M328 12.3L332.5 16.5" stroke="#F2D85A" stroke-width="1.8" stroke-linecap="round"/>
<circle cx="324" cy="8" r="5.4" fill="url(#lens)" stroke="#3A7CCC" stroke-width="1.3"/>
<path d="M321 8H327M324 5V11" stroke="#4A88BC" stroke-width="1.8"/>
<path d="M356 12.3L360.5 16.5" stroke="#B8901A" stroke-width="3.4" stroke-linecap="round"/><path d="M356 12.3L360.5 16.5" stroke="#F2D85A" stroke-width="1.8" stroke-linecap="round"/>
<circle cx="352" cy="8" r="5.4" fill="url(#lens)" stroke="#3A7CCC" stroke-width="1.3"/>
<path d="M349 8H355" stroke="#4A88BC" stroke-width="1.8"/>
</g>
<!-- tiles -->
<g shape-rendering="crispEdges">
<rect x="374" y="2" width="8" height="8" fill="#3C9C1C"/><rect x="382" y="2" width="8" height="8" fill="#1C4CCC"/>
<rect x="374" y="10" width="8" height="8" fill="#1C4CCC"/><rect x="382" y="10" width="8" height="8" fill="#3C9C1C"/>
<rect x="375" y="5" width="6" height="4" fill="#F4F8FF"/><rect x="383" y="5" width="6" height="4" fill="#F4F8FF"/>
<rect x="375" y="13" width="6" height="4" fill="#F4F8FF"/><rect x="383" y="13" width="6" height="4" fill="#F4F8FF"/>
<rect x="376" y="6" width="4" height="1" fill="#9CD08C"/><rect x="384" y="6" width="4" height="1" fill="#9CB4EC"/>
<rect x="376" y="14" width="4" height="1" fill="#9CB4EC"/><rect x="384" y="14" width="4" height="1" fill="#9CD08C"/>
</g>
<!-- autoscroll / shift -->
<use href="#axes" x="410" y="0"/>
<path d="M417.2 6.2V13L421 9.6Z" fill="#7CF07C" stroke="#0A9A0A" stroke-width="1"/>
<use href="#axes" x="438" y="0"/>
<path d="M446.5 4V14" stroke="#1E70B0" stroke-width="1.3"/>
<path d="M447.6 9.5L450.4 7.2V8.9H452.2V10.1H450.4V11.8Z" fill="#E04A0A"/>
<!-- new chart -->
<path d="M471.8 2.8H479.5L482.6 5.8V15.4H471.8Z" fill="#FCFCFC" stroke="#8A8A8A" stroke-width=".9"/>
<path d="M479.5 2.8V5.8H482.6" fill="none" stroke="#8A8A8A" stroke-width=".8"/>
<path d="M474.5 6V12.5M474.5 7.5H476M474.5 11H476" stroke="#706850" stroke-width=".9" fill="none"/>
<path d="M479.2 8.6H482.8V12H486.4V15.6H482.8V19.4H479.2V15.6H475.6V12H479.2Z" fill="#2ED02E" stroke="#0E8A0E" stroke-width=".9"/>
<use href="#dd" x="493" y="9"/>
<!-- clock -->
<circle cx="517" cy="10.1" r="7" fill="url(#face)" stroke="#1566CC" stroke-width="2.2"/>
<circle cx="517" cy="10.1" r="8.1" fill="none" stroke="#0A4AA0" stroke-width=".5"/>
<path d="M517 4.6V5.6M517 14.6V15.6M511.5 10.1H512.5M521.5 10.1H522.5" stroke="#8A94A4" stroke-width=".7"/>
<path d="M516.4 6.4L516.8 10.3L519.4 10.7" fill="none" stroke="#222" stroke-width="1"/>
<use href="#dd" x="532" y="9"/>
<!-- template -->
<rect x="548.4" y="3.2" width="15.4" height="13.4" fill="#fff" stroke="#3A78C8" stroke-width="1"/>
<rect x="548.4" y="3.2" width="15.4" height="2.6" fill="url(#tbar)"/>
<path d="M548.4 11.4H563.8" stroke="#3A78C8" stroke-width="1"/>
<path d="M550.5 9.4L552.5 9L554 7.6H556L557.5 8.6H559.5L561.8 7.2" fill="none" stroke="#B01A0A" stroke-width="1.1"/>
<path d="M551 14.4H553L554.5 13.4L556 14.4L558.6 12.4L561.5 14.6" fill="none" stroke="#1A8A1A" stroke-width="1.1"/>
<use href="#dd" x="571" y="9"/>
<!-- cursor -->
<path d="M600.2 2.6V14.2L603 11.6L605.4 16.6L607.2 15.8L604.9 10.9L608.3 10.6Z" fill="#505050"/>
<!-- crosshair -->
<path d="M632.5 3V8.6M632.5 12.4V17.4M625 10.5H630.6M634.4 10.5H640" stroke="#505050" stroke-width="1.1" fill="none"/>
<rect x="632" y="10" width="1" height="1" fill="#505050"/><path d="M632.5 8.6V12.4M630.6 10.5H634.4" stroke="#A0A0A0" stroke-width="1" fill="none"/>
<!-- lines -->
<path d="M666.5 4V16.6" stroke="#505050" stroke-width="1.1"/>
<path d="M689 10.5H701" stroke="#505050" stroke-width="1.1"/>
<path d="M717 17L729 5" stroke="#505050" stroke-width="1.1"/>
<!-- channel -->
<g stroke="#505050" stroke-width="1" fill="none"><path d="M742.6 12L751.4 4M744 16.8L757 8"/><path d="M745.2 15.8L746.6 8.6M748.6 13.6L750 6.4M752 11.4L754.4 2.6M743.5 14L755 6.5"/></g>
<text x="753.6" y="19" font-family="Liberation Sans,sans-serif" font-weight="bold" font-size="7.2" fill="#404040">E</text>
<!-- fib -->
<g stroke="#505050" stroke-width="1" stroke-dasharray="1 1" fill="none" shape-rendering="crispEdges"><path d="M772 3.5H786M772 6.5H786M772 10.5H786M772 14.5H781"/></g>
<text x="782" y="19" font-family="Liberation Sans,sans-serif" font-weight="bold" font-size="7.2" fill="#404040">F</text>
<!-- A, T -->
<text x="802.3" y="14.6" font-family="Liberation Sans,sans-serif" font-size="12.2" fill="#505050" stroke="#505050" stroke-width=".5">A</text>
<rect x="829.5" y="4.5" width="12" height="12" fill="none" stroke="#505050" stroke-width="1" stroke-dasharray="1 1" shape-rendering="crispEdges"/>
<text x="831.2" y="14.6" font-family="Liberation Sans,sans-serif" font-size="10.8" fill="#505050" stroke="#505050" stroke-width=".6">T</text>
<!-- arrows -->
<path d="M859.5 4L863.2 7.6H861V8.4H858V7.6H855.8Z" fill="#505050"/>
<path d="M866.5 16.8L862.8 13.2H865V12.4H868V13.2H870.2Z" fill="#505050"/>
<path d="M857.6 11.6L860.4 13.8L864.8 8.4" fill="none" stroke="#505050" stroke-width="1.3"/>
<use href="#dd" x="877" y="9"/>
<text x="903.2" y="14" class="tfs">M1</text>
<text x="931.2" y="14" class="tfs">M5</text>
<text x="957" y="14" class="tfs">M15</text>
<text x="984.6" y="14" class="tfs">M30</text>
<text x="1016" y="14" class="tfs">H1</text>
<text x="1043" y="14" class="tfs">H4</text>
<text x="1072" y="14" class="tfs">D1</text>
<text x="1099.2" y="14" class="tfs">W1</text>
<text x="1126" y="14" class="tfs">MN</text>
<!-- search -->
<circle cx="1619.6" cy="7.4" r="3.8" fill="#F6F8FF" stroke="#2F5FD0" stroke-width="1.2"/>
<path d="M1616.6 10.6L1612 15" stroke="#2F5FD0" stroke-width="2.2" stroke-linecap="round"/>
<!-- chat -->
<path d="M1636 12a5.6 4.8 0 1 1 5 4.6L1638.4 18.4L1639 16A5 4.6 0 0 1 1636 12z" fill="#E2E4E8" stroke="#C4C6CC" stroke-width=".6"/>
<circle cx="1650.7" cy="7.8" r="8.3" fill="url(#redc)"/>
<text x="1647.1" y="12.2" font-family="Liberation Sans,sans-serif" font-size="12.5" fill="#fff" stroke="#fff" stroke-width=".4">1</text>
</svg>

</div>
</body></html>
